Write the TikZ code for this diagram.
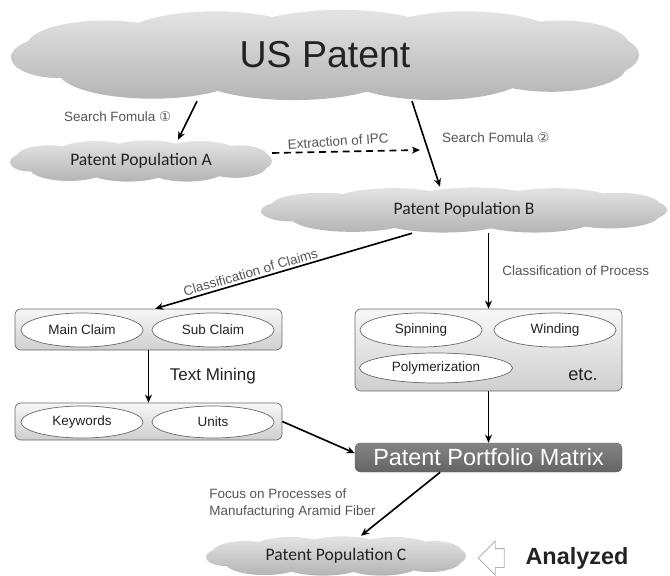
\documentclass[tikz,border=0pt]{standalone}
\usepackage{fontspec}
\setmainfont{Liberation Sans}
\newfontfamily\calibri{Carlito}
\newfontfamily\dejavu{DejaVu Sans}
\usepackage{tikz}
\usetikzlibrary{arrows.meta, positioning, shapes.arrows, shapes.geometric, backgrounds}
\definecolor{labelgray}{RGB}{85,85,85}
\definecolor{boxedge}{RGB}{105,105,105}
\definecolor{ppmfill}{RGB}{118,118,118}
\definecolor{inktext}{RGB}{34,34,34}
\definecolor{cloudtop}{RGB}{228,228,228}
\definecolor{cloudbot}{RGB}{180,180,180}

% soft cloud behind a node: #1 node, #2 half width, #3 half height (cm)
\newcommand{\puffcloud}[3]{%
  \begin{scope}[on background layer, shift={(#1.center)}, xscale=#2, yscale=#3]
    \shade[top color=cloudtop, bottom color=cloudbot]
      (0,-0.05) ellipse [x radius=0.9, y radius=0.6]
      (-0.7,0.2) ellipse [x radius=0.25, y radius=0.55]
      (-0.35,0.35) ellipse [x radius=0.3, y radius=0.6]
      (0.05,0.4) ellipse [x radius=0.32, y radius=0.58]
      (0.45,0.35) ellipse [x radius=0.3, y radius=0.6]
      (0.75,0.2) ellipse [x radius=0.22, y radius=0.55]
      (-0.55,-0.35) ellipse [x radius=0.3, y radius=0.6]
      (-0.1,-0.4) ellipse [x radius=0.32, y radius=0.58]
      (0.35,-0.38) ellipse [x radius=0.3, y radius=0.6]
      (0.72,-0.25) ellipse [x radius=0.24, y radius=0.55]
      (-0.85,-0.05) ellipse [x radius=0.15, y radius=0.45]
      (0.87,0) ellipse [x radius=0.13, y radius=0.45];
  \end{scope}}

\begin{document}
\begin{tikzpicture}[
  patcloud/.style={inner sep=0pt, text=inktext, font=\calibri\fontsize{15}{18}\selectfont},
  group/.style={draw=boxedge, rounded corners=5pt, line width=0.6pt,
                top color=gray!6, bottom color=gray!38, minimum width=8.01cm, inner sep=0pt},
  item/.style={ellipse, draw=boxedge, fill=white, line width=0.6pt, inner sep=0pt,
               minimum width=3.66cm, minimum height=1.02cm, text=inktext,
               font=\fontsize{11.5}{14}\selectfont},
  lbl/.style={text=labelgray, inner sep=2pt, font=\fontsize{11.5}{14}\selectfont},
  arrow/.style={-{Stealth[length=7pt, width=6pt]}, line width=1.4pt},
  hollow/.style={single arrow, shape border rotate=180, draw=gray!60, fill=white,
                 line width=0.8pt, minimum width=1.02cm, minimum height=0.78cm,
                 single arrow head extend=0.17cm, inner sep=0.2cm}
]
\useasboundingbox (0,0) rectangle (20.1,17.25);

% Patent clouds
\node[patcloud, minimum width=18.84cm, minimum height=2.76cm,
      font=\fontsize{32}{36}\selectfont] (us) at (9.75,15.6) {US Patent};
\node[patcloud, minimum width=7.86cm, minimum height=1.26cm] (popA) at (4.23,12.42) {Patent Population A};
\node[patcloud, minimum width=12.18cm, minimum height=1.38cm] (popB) at (13.92,10.95) {Patent Population B};
\node[patcloud, minimum width=7.8cm, minimum height=1.2cm] (popC) at (10.08,0.57) {Patent Population C};
\puffcloud{us}{9.42}{1.38}
\puffcloud{popA}{3.93}{0.63}
\puffcloud{popB}{6.09}{0.69}
\puffcloud{popC}{3.9}{0.6}

% Claim groups
\node[group, minimum height=1.23cm] (box1) at (4.455,7.365) {};
\node[item] (main) at (2.46,7.35) {Main Claim};
\node[item] (sub) at (6.39,7.35) {Sub Claim};

\node[group, minimum height=1.11cm] (box2) at (4.455,4.605) {};
\node[item, minimum height=0.96cm] (keys) at (2.46,4.59) {Keywords};
\node[item, minimum height=0.96cm] (units) at (6.39,4.59) {Units};

% Process group
\node[group, minimum height=2.46cm] (rbox) at (14.655,6.75) {};
\node[item] (spin) at (12.63,7.35) {Spinning};
\node[item] (wind) at (16.65,7.35) {Winding};
\node[item, minimum width=4.59cm, minimum height=0.9cm] (poly) at (13.08,6.21) {Polymerization};
\node[text=inktext, font=\fontsize{15.5}{18}\selectfont] (etc) at (17.49,6.0) {etc.};

% Matrix
\node[draw=ppmfill!80!black, rounded corners=5pt, top color=ppmfill!90, bottom color=ppmfill!85!black,
      minimum width=8.01cm, minimum height=0.87cm, inner sep=0pt, text=white,
      font=\fontsize{20}{24}\selectfont] (ppm) at (14.655,3.525) {Patent Portfolio Matrix};

% Result marker
\node[hollow] (pointer) at (14.88,0.51) {};
\node[right=0.5cm of pointer, text=inktext, font=\bfseries\fontsize{20}{24}\selectfont] (done) {Analyzed};

\coordinate (ipc) at (12.6,12.75);

% Connections
\draw[arrow] ([xshift=-3.84cm]us.south) -- node[lbl, left=0.45cm, pos=0.4] {Search Fomula {\dejavu ①}} ([xshift=1.11cm]popA.north);
\draw[arrow] ([xshift=2.61cm]us.south) -- node[lbl, right=0.45cm, pos=0.43] {Search Fomula {\dejavu ②}} ([xshift=-0.72cm]popB.north);
\draw[arrow, dash pattern=on 6pt off 4pt] ([yshift=0.24cm]popA.east) -- node[lbl, above=2pt, rotate=4, pos=0.45] {Extraction of IPC} (ipc);
\draw[arrow] ([xshift=-1.56cm]popB.south) -- node[lbl, sloped, above, pos=0.62] {Classification of Claims} ([xshift=0.2cm]box1.north);
\draw[arrow] (popB.south -| rbox.north) -- node[lbl, right=0.32cm] {Classification of Process} (rbox.north);
\draw[arrow] (box1.south) -- node[right=0.5cm, text=inktext, font=\fontsize{14.5}{17}\selectfont] {Text Mining} (box2.north);
\draw[arrow] (rbox.south) -- (ppm.north);
\draw[arrow] (box2.east) -- ([yshift=0.13cm]ppm.west);
\draw[arrow] ([xshift=-1.45cm]ppm.south) -- node[lbl, left=0.68cm, pos=0.49, align=left, font=\fontsize{11.5}{14.5}\selectfont]
  {Focus on Processes of\\Manufacturing Aramid Fiber} ([xshift=0.75cm]popC.north);

\end{tikzpicture}
\end{document}
